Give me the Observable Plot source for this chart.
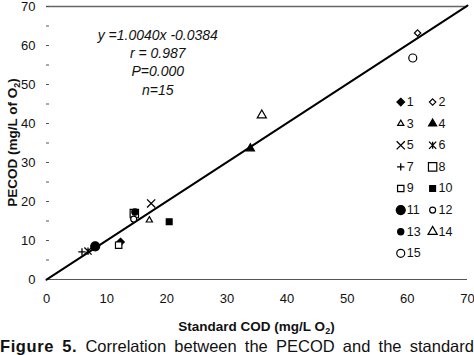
<!DOCTYPE html>
<html><head><meta charset="utf-8">
<script src="https://cdn.jsdelivr.net/npm/d3@7"></script>
<script src="https://cdn.jsdelivr.net/npm/@observablehq/plot@0.6"></script>
<style>
html,body{margin:0;padding:0;background:#fff;width:474px;height:355px;overflow:hidden;font-family:"Liberation Sans",Arial,sans-serif;}
#chart{height:336px;}
#cap{width:474px;margin-top:1px;font-size:16.5px;line-height:18px;white-space:nowrap;color:#111;display:flex;justify-content:space-between;}
#cap b{letter-spacing:0.6px;}
</style></head><body>
<div id="chart"></div>
<div id="cap"><span><b>Figure</b></span><span><b>5.</b></span><span>Correlation</span><span>between</span><span>the</span><span>PECOD</span><span>and</span><span>the</span><span>standard</span></div>
<script>
// ---- data ----
const ids = [1,2,3,4,5,6,7,8,9,10,11,12,13,14,15];
const standardCOD = [12.3, 61.7, 17.1, 33.9, 17.4, 6.9, 5.9, 14.6, 12.0, 20.4, 8.1, 14.5, 14.7, 35.8, 60.9];
const pecod       = [ 9.6, 63.2, 15.2, 33.6, 19.5, 7.3, 7.1, 16.9,  8.8, 14.8, 8.5, 15.5, 17.3, 42.1, 56.8];
const xTicks = [0,10,20,30,40,50,60,70];
const yTicks = [0,10,20,30,40,50,60,70];
const yMinorTicks = [0,5,10,15,20,25,30,35,40,45,50,55,60,65,70];
const slope = 1.0040, intercept = -0.0384;
const statLines = ["y =1.0040x -0.0384", "r = 0.987", "P=0.000", "n=15"];

// ---- styles (per id) ----
const symbolZhe = {draw(ctx, size){
  const r = Math.sqrt(size/Math.PI);
  ctx.moveTo(-r,-r); ctx.lineTo(r,r);
  ctx.moveTo(-r,r); ctx.lineTo(r,-r);
  ctx.moveTo(0,-r); ctx.lineTo(0,r);
}};
const symbolRhomb = {draw(ctx, size){
  const r = Math.sqrt(size/Math.PI);
  ctx.moveTo(0,-r); ctx.lineTo(r,0); ctx.lineTo(0,r); ctx.lineTo(-r,0); ctx.closePath();
}};
const styles = {
  1:{sym:symbolRhomb, r:3.8, filled:true},
  2:{sym:symbolRhomb, r:3.2, filled:false},
  3:{sym:d3.symbolTriangle, r:2.3, filled:false},
  4:{sym:d3.symbolTriangle, r:3.0, filled:true},
  5:{sym:d3.symbolTimes, r:3.8, filled:false, line:true},
  6:{sym:symbolZhe, r:3.6, filled:false, line:true},
  7:{sym:d3.symbolPlus, r:2.5, filled:false, line:true},
  8:{sym:d3.symbolSquare, r:4.7, filled:false},
  9:{sym:d3.symbolSquare, r:3.6, filled:false},
  10:{sym:d3.symbolSquare, r:3.3, filled:true},
  11:{sym:d3.symbolCircle, r:4.5, filled:true},
  12:{sym:d3.symbolCircle, r:3.0, filled:false},
  13:{sym:d3.symbolCircle, r:3.1, filled:true},
  14:{sym:d3.symbolTriangle, r:3.4, filled:false},
  15:{sym:d3.symbolCircle, r:4.0, filled:false}
};
function dotOpts(st){
  return {symbol: st.sym, r: st.r,
    fill: st.filled ? "#000" : (st.line ? "none" : "#fff"),
    stroke: "#000", strokeWidth: st.line ? 1.3 : 1.2};
}

const W = 474, H = 336;
const mL = 46, mR = 7, mT = 6, mB = 57;
// legend grid in data units
const legX0 = 58.9, legDX = 5.3, legY0 = 45.5, legDY = 5.54;

const marks = [
  Plot.ruleY([0], {stroke:"#555", strokeWidth:1.2}),
  Plot.ruleY([70], {stroke:"#666", strokeWidth:1.6}),
  Plot.ruleY(yMinorTicks, {x1:0, x2:0.5, stroke:"#555", strokeWidth:1}),
  Plot.axisX(xTicks, {tickSize:0, tickPadding:14, fontSize:13, fill:"#111"}),
  Plot.axisY(yTicks, {tickSize:0, tickPadding:11, fontSize:13, fill:"#111"}),
  Plot.line([0,70], {x: d=>d, y: d=>slope*d+intercept, stroke:"#000", strokeWidth:2}),
  Plot.text([statLines.join("\n")], {x:18.5, y:55.95, text:d=>d, fontSize:14, fontStyle:"italic", lineHeight:1.31, textAnchor:"middle", fill:"#111", lineAnchor:"middle"})
];
ids.forEach((id,i)=>{
  marks.push(Plot.dot([i], {x:j=>standardCOD[j], y:j=>pecod[j], ...dotOpts(styles[id])}));
});
ids.forEach((id,i)=>{
  const col = i%2, row = Math.floor(i/2);
  const lx = legX0 + col*legDX, ly = legY0 - row*legDY;
  marks.push(Plot.dot([id], {x:()=>lx, y:()=>ly, ...dotOpts(styles[id])}));
  marks.push(Plot.text([id], {x:()=>lx, y:()=>ly, text:d=>String(d), dx:6, textAnchor:"start", fontSize:12.5, fill:"#111"}));
});

const chart = Plot.plot({
  width: W, height: H,
  marginLeft: mL, marginRight: mR, marginTop: mT, marginBottom: mB,
  style: {fontFamily: '"Liberation Sans", Arial, sans-serif', background:"#fff", overflow:"visible"},
  x: {domain:[0,70], axis:null},
  y: {domain:[0,70], axis:null},
  marks
});
document.getElementById("chart").appendChild(chart);

// axis titles with subscripts
const svg = d3.select(chart);
const xt = svg.append("text").attr("x", (mL + W - mR)/2).attr("y", 331)
  .attr("text-anchor","middle").attr("font-size",13.5).attr("font-weight","bold").attr("fill","#111");
xt.append("tspan").text("Standard COD (mg/L O");
xt.append("tspan").attr("font-size",9).attr("dy",3).text("2");
xt.append("tspan").attr("dy",-3).text(")");
const yt = svg.append("text").attr("transform", `translate(17,${(mT + H - mB)/2}) rotate(-90)`)
  .attr("text-anchor","middle").attr("font-size",13.5).attr("font-weight","bold").attr("fill","#111");
yt.append("tspan").text("PECOD (mg/L of O");
yt.append("tspan").attr("font-size",9).attr("dy",3).text("2");
yt.append("tspan").attr("dy",-3).text(")");
</script>
</body></html>
